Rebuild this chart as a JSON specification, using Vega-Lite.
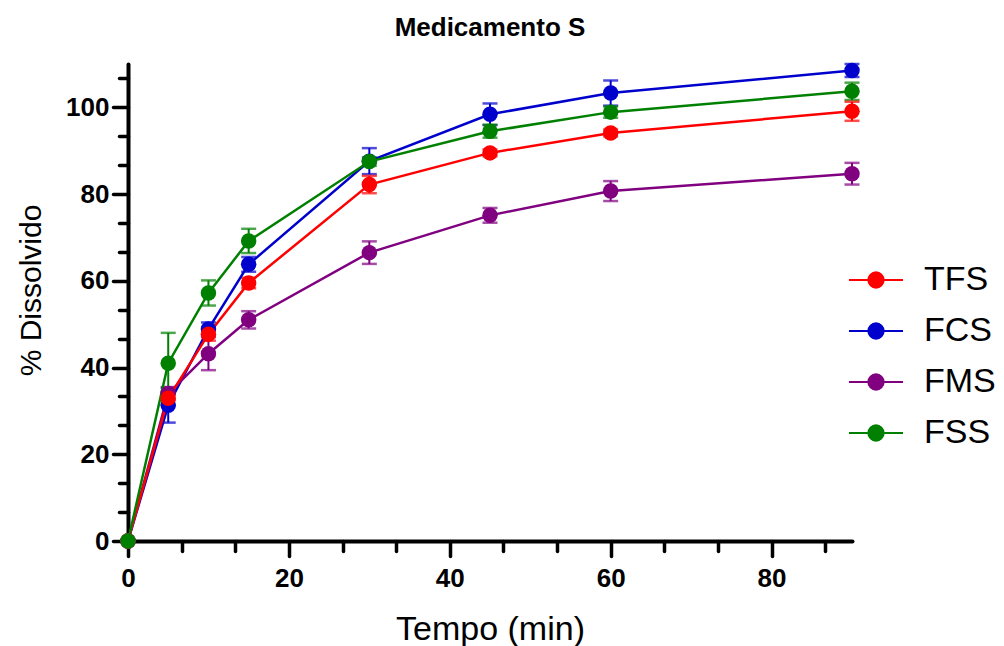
{
  "$schema": "https://vega.github.io/schema/vega-lite/v6.json",
  "width": 724,
  "height": 477,
  "autosize": {"type": "none"},
  "padding": {"left": 128, "top": 64, "right": 152, "bottom": 105},
  "background": "white",
  "title": {
    "text": "Medicamento S",
    "font": "Liberation Sans Narrow, Liberation Sans, Arial",
    "fontWeight": "bold",
    "fontSize": 26,
    "color": "black",
    "anchor": "middle",
    "offset": 22
  },
  "config": {"view": {"stroke": null}},
  "data": {
    "values": [
      {"t": 0, "s": "FCS", "m": 0, "lo": 0, "hi": 0},
      {"t": 5, "s": "FCS", "m": 31.3, "lo": 27.3, "hi": 35.3},
      {"t": 10, "s": "FCS", "m": 48.9, "lo": 47.4, "hi": 50.4},
      {"t": 15, "s": "FCS", "m": 63.8, "lo": 62.1, "hi": 65.5},
      {"t": 30, "s": "FCS", "m": 87.6, "lo": 84.6, "hi": 90.6},
      {"t": 45, "s": "FCS", "m": 98.4, "lo": 95.9, "hi": 100.9},
      {"t": 60, "s": "FCS", "m": 103.3, "lo": 100.4, "hi": 106.2},
      {"t": 90, "s": "FCS", "m": 108.5, "lo": 107.0, "hi": 110.0},
      {"t": 0, "s": "FMS", "m": 0, "lo": 0, "hi": 0},
      {"t": 5, "s": "FMS", "m": 34.0, "lo": 32.5, "hi": 35.5},
      {"t": 10, "s": "FMS", "m": 43.2, "lo": 39.4, "hi": 47.0},
      {"t": 15, "s": "FMS", "m": 51.0, "lo": 49.0, "hi": 53.0},
      {"t": 30, "s": "FMS", "m": 66.5, "lo": 63.9, "hi": 69.1},
      {"t": 45, "s": "FMS", "m": 75.1, "lo": 73.4, "hi": 76.8},
      {"t": 60, "s": "FMS", "m": 80.7, "lo": 78.4, "hi": 83.0},
      {"t": 90, "s": "FMS", "m": 84.7, "lo": 82.2, "hi": 87.2},
      {"t": 0, "s": "TFS", "m": 0, "lo": 0, "hi": 0},
      {"t": 5, "s": "TFS", "m": 32.9, "lo": 31.4, "hi": 34.4},
      {"t": 10, "s": "TFS", "m": 47.7, "lo": 46.2, "hi": 49.2},
      {"t": 15, "s": "TFS", "m": 59.5, "lo": 58.3, "hi": 60.7},
      {"t": 30, "s": "TFS", "m": 82.2, "lo": 80.2, "hi": 84.2},
      {"t": 45, "s": "TFS", "m": 89.5, "lo": 88.7, "hi": 90.3},
      {"t": 60, "s": "TFS", "m": 94.1, "lo": 93.3, "hi": 94.9},
      {"t": 90, "s": "TFS", "m": 99.1, "lo": 96.9, "hi": 101.3},
      {"t": 0, "s": "FSS", "m": 0, "lo": 0, "hi": 0},
      {"t": 5, "s": "FSS", "m": 41.0, "lo": 34.0, "hi": 48.0},
      {"t": 10, "s": "FSS", "m": 57.2, "lo": 54.3, "hi": 60.1},
      {"t": 15, "s": "FSS", "m": 69.2, "lo": 66.4, "hi": 72.0},
      {"t": 30, "s": "FSS", "m": 87.5, "lo": 86.5, "hi": 88.5},
      {"t": 45, "s": "FSS", "m": 94.5, "lo": 93.0, "hi": 96.0},
      {"t": 60, "s": "FSS", "m": 98.9, "lo": 97.6, "hi": 100.2},
      {"t": 90, "s": "FSS", "m": 103.7, "lo": 101.7, "hi": 105.7}
    ]
  },
  "encoding": {
    "x": {
      "field": "t",
      "type": "quantitative",
      "scale": {"domain": [0, 90], "nice": false, "zero": false},
      "axis": {
        "values": [0, 6.6667, 13.3333, 20, 26.6667, 33.3333, 40, 46.6667, 53.3333, 60, 66.6667, 73.3333, 80, 86.6667],
        "tickCount": 100,
        "tickSize": {"condition": {"test": "datum.value % 20 == 0", "value": 15}, "value": 10},
        "tickWidth": 3.5,
        "tickColor": "black",
        "tickCap": "round",
        "domainWidth": 4,
        "domainColor": "black",
        "domainCap": "round",
        "labelExpr": "datum.value % 20 == 0 ? datum.label : ''",
        "labelFont": "Liberation Sans Narrow, Liberation Sans, Arial",
        "labelFontWeight": "bold",
        "labelFontSize": 26,
        "labelColor": "black",
        "labelPadding": 9,
        "labelFlush": false,
        "labelOverlap": false,
        "grid": false,
        "title": "Tempo (min)",
        "titleFont": "Liberation Sans, Arial",
        "titleFontSize": 34,
        "titleFontWeight": "normal",
        "titleColor": "black",
        "titleBaseline": "alphabetic",
        "titleY": 98
      }
    },
    "color": {
      "field": "s",
      "type": "nominal",
      "scale": {"domain": ["TFS", "FCS", "FMS", "FSS"], "range": ["#FF0000", "#0000CC", "#800080", "#008000"]},
      "legend": {
        "orient": "none",
        "legendX": 731,
        "legendY": 199,
        "title": null,
        "symbolType": "M-2,0H2M-0.56,0A0.56,0.56,0,1,0,0.56,0A0.56,0.56,0,1,0,-0.56,0Z",
        "symbolSize": 729,
        "symbolStrokeWidth": 2.2,
        "symbolOpacity": 1,
        "labelFont": "Liberation Sans, Arial",
        "labelFontSize": 34,
        "labelColor": "black",
        "labelOffset": 31,
        "labelBaseline": "middle",
        "rowPadding": 17,
        "encode": {
          "symbols": {
            "update": {
              "fill": {"scale": "color", "field": "value"},
              "stroke": {"scale": "color", "field": "value"}
            }
          }
        }
      }
    }
  },
  "layer": [
    {
      "mark": {"type": "rule", "strokeWidth": 2},
      "encoding": {
        "y": {
          "field": "lo",
          "type": "quantitative",
          "scale": {"domain": [0, 110], "nice": false},
          "axis": {
            "values": [0, 6.6667, 13.3333, 20, 26.6667, 33.3333, 40, 46.6667, 53.3333, 60, 66.6667, 73.3333, 80, 86.6667, 93.3333, 100, 106.6667],
            "tickCount": 100,
            "tickSize": {"condition": {"test": "datum.value % 20 == 0", "value": 15}, "value": 9},
            "tickWidth": 3.5,
            "tickColor": "black",
            "tickCap": "round",
            "domainWidth": 4,
            "domainColor": "black",
            "domainCap": "round",
            "labelExpr": "datum.value % 20 == 0 ? datum.label : ''",
            "labelFont": "Liberation Sans Narrow, Liberation Sans, Arial",
            "labelFontWeight": "bold",
            "labelFontSize": 26,
            "labelColor": "black",
            "labelPadding": 4,
            "labelFlush": false,
            "labelOverlap": false,
            "grid": false,
            "title": "% Dissolvido",
            "titleFont": "Liberation Sans, Arial",
            "titleFontSize": 30,
            "titleFontWeight": "normal",
            "titleColor": "black",
            "titleAngle": -90,
            "titleAlign": "center",
            "titleBaseline": "middle",
            "titleX": -97,
            "titleY": 226
          }
        },
        "y2": {"field": "hi"}
      }
    },
    {
      "mark": {"type": "tick", "orient": "horizontal", "size": 15, "thickness": 2.5},
      "encoding": {"y": {"field": "lo", "type": "quantitative"}}
    },
    {
      "mark": {"type": "tick", "orient": "horizontal", "size": 15, "thickness": 2.5},
      "encoding": {"y": {"field": "hi", "type": "quantitative"}}
    },
    {
      "mark": {"type": "line", "strokeWidth": 2.5},
      "encoding": {"y": {"field": "m", "type": "quantitative"}}
    },
    {
      "mark": {"type": "point", "shape": "circle", "filled": true, "size": 240, "opacity": 1},
      "encoding": {"y": {"field": "m", "type": "quantitative"}}
    }
  ]
}
